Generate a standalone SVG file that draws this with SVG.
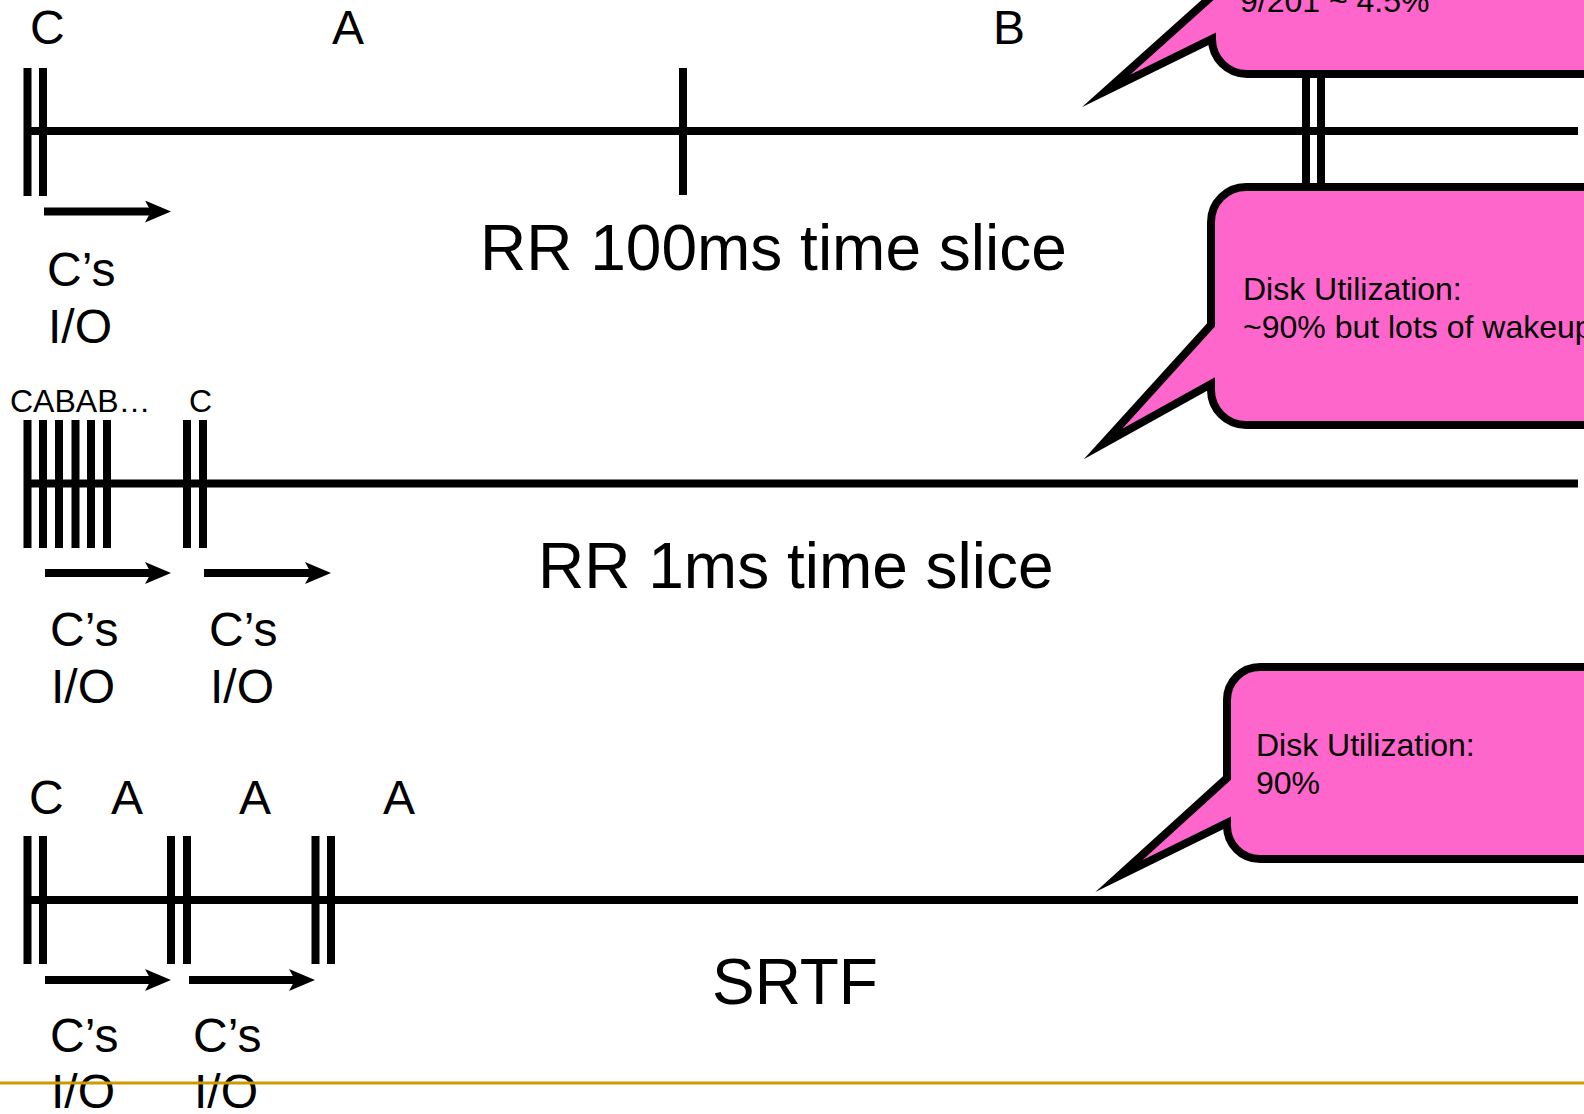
<svg xmlns="http://www.w3.org/2000/svg" width="1584" height="1114" viewBox="0 0 1584 1114">
  <style>
    text { font-family: "Liberation Sans", Arial, sans-serif; fill: #000; }
    .big { font-size: 64px; }
    .lbl { font-size: 48px; }
    .sm { font-size: 32px; }
    .axis { stroke: #000; stroke-width: 8; fill: none; }
    .tick { stroke: #000; stroke-width: 8; fill: none; }
    .io { stroke: #000; stroke-width: 8; fill: none; marker-end: url(#head); }
    .callout { fill: #FF66CC; stroke: #000; stroke-width: 8; stroke-linejoin: miter; stroke-miterlimit: 12; }
  </style>
  <defs>
    <marker id="head" markerUnits="userSpaceOnUse" markerWidth="27" markerHeight="22" refX="13" refY="11" orient="auto" viewBox="0 0 27 22">
      <path d="M0,0 L26,11 L0,22 L6,11 Z" fill="#000"/>
    </marker>
  </defs>

  <rect width="1584" height="1114" fill="#fff"/>

  <!-- Row 1: RR with 100ms slice -->
  <g id="rr100">
    <line class="axis" x1="27" y1="131" x2="1578" y2="131"/>
    <line class="tick" x1="27.5" y1="68" x2="27.5" y2="196"/>
    <line class="tick" x1="43" y1="68" x2="43" y2="196"/>
    <line class="tick" x1="683" y1="68" x2="683" y2="195"/>
    <line class="tick" x1="1306" y1="68" x2="1306" y2="196"/>
    <line class="tick" x1="1321" y1="68" x2="1321" y2="196"/>
    <text class="lbl" x="30" y="44">C</text>
    <text class="lbl" x="332" y="44">A</text>
    <text class="lbl" x="993" y="44">B</text>
    <text class="lbl" x="47" y="286">C’s</text>
    <text class="lbl" x="48" y="343">I/O</text>
    <text class="big" x="480" y="270">RR 100ms time slice</text>
  </g>

  <!-- Row 2: RR with 1ms slice -->
  <g id="rr1">
    <line class="axis" x1="27" y1="483.5" x2="1578" y2="483.5"/>
    <line class="tick" x1="27.5" y1="420" x2="27.5" y2="548"/>
    <line class="tick" x1="43" y1="420" x2="43" y2="548"/>
    <line class="tick" x1="59" y1="420" x2="59" y2="548"/>
    <line class="tick" x1="75.5" y1="420" x2="75.5" y2="548"/>
    <line class="tick" x1="91" y1="420" x2="91" y2="548"/>
    <line class="tick" x1="107" y1="420" x2="107" y2="548"/>
    <line class="tick" x1="187" y1="420" x2="187" y2="548"/>
    <line class="tick" x1="203" y1="420" x2="203" y2="548"/>
    <text class="sm" x="10" y="412">CABAB…</text>
    <text class="sm" x="189" y="412">C</text>
    <text class="lbl" x="50" y="646">C’s</text>
    <text class="lbl" x="51" y="703">I/O</text>
    <text class="lbl" x="209" y="646">C’s</text>
    <text class="lbl" x="210" y="703">I/O</text>
    <text class="big" x="538" y="588">RR 1ms time slice</text>
  </g>

  <!-- Row 3: SRTF -->
  <g id="srtf">
    <line class="axis" x1="27" y1="900" x2="1578" y2="900"/>
    <line class="tick" x1="27.5" y1="836" x2="27.5" y2="964"/>
    <line class="tick" x1="43" y1="836" x2="43" y2="964"/>
    <line class="tick" x1="171" y1="836" x2="171" y2="964"/>
    <line class="tick" x1="187" y1="836" x2="187" y2="964"/>
    <line class="tick" x1="315.5" y1="836" x2="315.5" y2="964"/>
    <line class="tick" x1="331" y1="836" x2="331" y2="964"/>
    <text class="lbl" x="29" y="814">C</text>
    <text class="lbl" x="111" y="814">A</text>
    <text class="lbl" x="239" y="814">A</text>
    <text class="lbl" x="383" y="814">A</text>
    <text class="lbl" x="50" y="1052">C’s</text>
    <text class="lbl" x="51" y="1108">I/O</text>
    <text class="lbl" x="193" y="1052">C’s</text>
    <text class="lbl" x="194" y="1108">I/O</text>
    <text class="big" x="712" y="1004">SRTF</text>
  </g>

  <!-- I/O duration arrows -->
  <g id="connectors">
    <line class="io" x1="44" y1="211.5" x2="158" y2="211.5"/>
    <line class="io" x1="45" y1="573" x2="158" y2="573"/>
    <line class="io" x1="204" y1="573" x2="318" y2="573"/>
    <line class="io" x1="45" y1="980" x2="158" y2="980"/>
    <line class="io" x1="189" y1="980" x2="302" y2="980"/>
  </g>

  <!-- Callouts (tail points set back so the mitred outline ends at the tip) -->
  <g id="callout-rr100">
    <path class="callout" d="M1640,-200 V74 H1247 A35,35 0 0 1 1212,39 L1106,91 L1212,-4 V-165 A35,35 0 0 1 1247,-200 Z"/>
    <text class="sm" x="1240" y="12">9/201 ~ 4.5%</text>
  </g>
  <g id="callout-rr1">
    <path class="callout" d="M1246,187 H1640 V425 H1246 A35,35 0 0 1 1211,390 V384 L1103,444 L1211,325 V222 A35,35 0 0 1 1246,187 Z"/>
    <text class="sm" x="1243" y="300">Disk Utilization:</text>
    <text class="sm" x="1243" y="338">~90% but lots of wakeups!</text>
  </g>
  <g id="callout-srtf">
    <path class="callout" d="M1260,667 H1640 V859 H1260 A33,33 0 0 1 1227,826 V823 L1119,876 L1227,778 V700 A33,33 0 0 1 1260,667 Z"/>
    <text class="sm" x="1256" y="756">Disk Utilization:</text>
    <text class="sm" x="1256" y="794">90%</text>
  </g>

  <!-- footer rule -->
  <line x1="0" y1="1083" x2="1584" y2="1083" stroke="#CC9900" stroke-width="3"/>
</svg>
